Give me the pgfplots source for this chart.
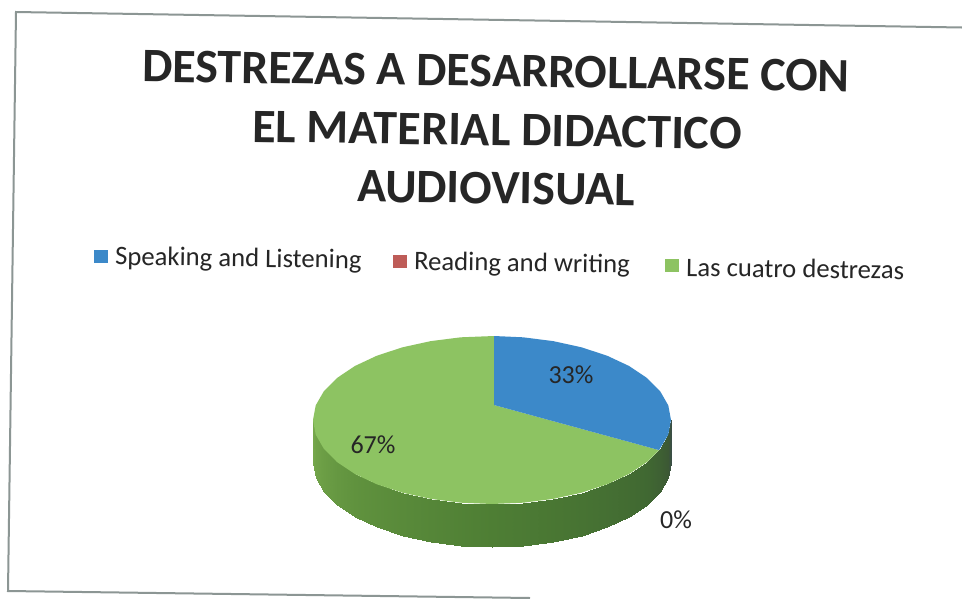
\documentclass[border=0pt]{standalone}
\usepackage{pgfplots}
\pgfplotsset{compat=1.18}
\usepackage{fontspec}
\setmainfont{Carlito}
\definecolor{pblue}{RGB}{60,137,201}
\definecolor{pred}{RGB}{190,92,88}
\definecolor{pgreen}{RGB}{141,195,98}
\definecolor{frame}{RGB}{140,150,148}
\definecolor{ink}{RGB}{38,38,38}
\begin{document}
\begin{tikzpicture}
\begin{axis}[
  scale only axis, width=962pt, height=598pt,
  xmin=0, xmax=962, ymin=0, ymax=598, y dir=reverse,
  axis lines=none, clip=true,
  axis background/.style={fill=white},
  colormap={wall}{rgb255(0cm)=(58,78,70); rgb255(1cm)=(60,88,52); rgb255(3cm)=(64,104,50); rgb255(9cm)=(78,126,52); rgb255(14cm)=(96,146,62); rgb255(18cm)=(118,168,76)},
  point meta min=90, point meta max=270,
]
% frame
\addplot[frame, line width=2pt, line join=miter] coordinates {(962,27.5) (16,12) (8,591) (530,598)};
% wall of the pie
\addplot[patch, patch type=rectangle, shader=interp, draw=none, point meta=explicit] table[meta=c] {
x y c
671 420 90
668.3 434.6 100
668.3 477.6 100
671 463 90
668.3 434.6 100
660.2 448.7 110
660.2 491.7 110
668.3 477.6 100
660.2 448.7 110
647 462 120
647 505 120
660.2 491.7 110
647 462 120
629.1 474 130
629.1 517 130
647 505 120
629.1 474 130
607.1 484.3 140
607.1 527.3 140
629.1 517 130
607.1 484.3 140
581.5 492.7 150
581.5 535.7 150
607.1 527.3 140
581.5 492.7 150
553.2 498.9 160
553.2 541.9 160
581.5 535.7 150
553.2 498.9 160
523.1 502.7 170
523.1 545.7 170
553.2 541.9 160
523.1 502.7 170
492 504 180
492 547 180
523.1 545.7 170
492 504 180
460.9 502.7 190
460.9 545.7 190
492 547 180
460.9 502.7 190
430.8 498.9 200
430.8 541.9 200
460.9 545.7 190
430.8 498.9 200
402.5 492.7 210
402.5 535.7 210
430.8 541.9 200
402.5 492.7 210
376.9 484.3 220
376.9 527.3 220
402.5 535.7 210
376.9 484.3 220
354.9 474 230
354.9 517 230
376.9 527.3 220
354.9 474 230
337 462 240
337 505 240
354.9 517 230
337 462 240
323.8 448.7 250
323.8 491.7 250
337 505 240
323.8 448.7 250
315.7 434.6 260
315.7 477.6 260
323.8 491.7 250
315.7 434.6 260
313 420 270
313 463 270
315.7 477.6 260
};
% Las cuatro destrezas: 67 %
\addplot[fill=pgreen, draw=none] coordinates {
(494,405) (659.1,450.1) (647,462) (629.1,474) (607.1,484.3) (581.5,492.7) (553.2,498.9) (523.1,502.7)
(492,504) (460.9,502.7) (430.8,498.9) (402.5,492.7) (376.9,484.3) (354.9,474) (337,462) (323.8,448.7)
(315.7,434.6) (313,420) (315.7,405.4) (323.8,391.3) (337,378) (354.9,366) (376.9,355.7) (402.5,347.3)
(430.8,341.1) (460.9,337.3) (494,336)} -- cycle;
% Speaking and Listening: 33 %
\addplot[fill=pblue, draw=none] coordinates {
(494,405) (494,336) (523.1,337.3) (553.2,341.1) (581.5,347.3) (607.1,355.7) (629.1,366) (647,378)
(660.2,391.3) (668.3,405.4) (671,420) (668.3,434.6) (659.1,450.1)} -- cycle;
% legend swatches
\addplot[fill=pblue, draw=none] coordinates {(94,250) (108,250) (108,263) (94,263)} -- cycle;
\addplot[fill=pred, draw=none] coordinates {(393,255) (407,255) (407,268) (393,268)} -- cycle;
\addplot[fill=pgreen, draw=none] coordinates {(665,259) (679,259) (679,272) (665,272)} -- cycle;
% texts
\node[text=ink, rotate=-0.8, font=\fontsize{48}{48}\selectfont\bfseries] at (axis cs:496,71) {DESTREZAS A DESARROLLARSE CON};
\node[text=ink, rotate=-0.8, font=\fontsize{48}{48}\selectfont\bfseries] at (axis cs:497,130) {EL MATERIAL DIDACTICO};
\node[text=ink, rotate=-0.8, font=\fontsize{48}{48}\selectfont\bfseries] at (axis cs:496,188) {AUDIOVISUAL};
\node[text=ink, rotate=-0.8, font=\fontsize{26.7}{26.7}\selectfont, anchor=west, inner sep=0pt] at (axis cs:115,258) {Speaking and Listening};
\node[text=ink, rotate=-0.8, font=\fontsize{26.7}{26.7}\selectfont, anchor=west, inner sep=0pt] at (axis cs:414,263) {Reading and writing};
\node[text=ink, rotate=-0.8, font=\fontsize{26.7}{26.7}\selectfont, anchor=west, inner sep=0pt] at (axis cs:686,267) {Las cuatro destrezas};
\node[text=ink, font=\fontsize{26}{26}\selectfont] at (axis cs:571,375) {33\%};
\node[text=ink, font=\fontsize{26}{26}\selectfont] at (axis cs:373,445) {67\%};
\node[text=ink, font=\fontsize{26}{26}\selectfont] at (axis cs:676,520) {0\%};
\end{axis}
\end{tikzpicture}
\end{document}
